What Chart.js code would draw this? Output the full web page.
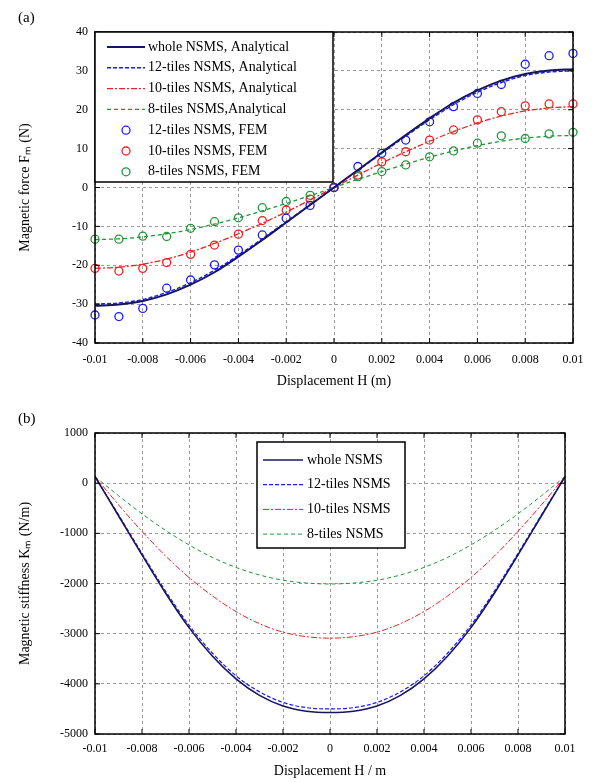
<!DOCTYPE html>
<html>
<head>
<meta charset="utf-8">
<title>NSMS force and stiffness</title>
<script src="https://cdn.jsdelivr.net/npm/chart.js@4.4.1/dist/chart.umd.min.js"></script>
<style>
  html, body { margin: 0; padding: 0; background: #fff; }
  body { width: 597px; height: 782px; position: relative; overflow: hidden; font-family: 'Liberation Serif', serif; }
  canvas { position: absolute; left: 0; }
  .tag { position: absolute; left: 18px; font-size: 15px; color: #000; }
</style>
</head>
<body>
<canvas id="forceChart" width="597" height="400" style="top:0"></canvas>
<canvas id="stiffChart" width="597" height="382" style="top:400px"></canvas>
<div class="tag" style="top:9px">(a)</div>
<div class="tag" style="top:410px">(b)</div>
<script>
// Displacement H (m) - shared by every series
const displacement = [-0.01, -0.009, -0.008, -0.007, -0.006, -0.005, -0.004, -0.003, -0.002, -0.001, 0,
    0.001, 0.002, 0.003, 0.004, 0.005, 0.006, 0.007, 0.008, 0.009, 0.01];

// (a) Magnetic force (N), analytical curves
const forceWhole = [-30.4, -30.1, -29.2, -27.5, -25.0, -21.8, -17.8, -13.5, -9.0, -4.5, 0,
    4.5, 9.0, 13.5, 17.8, 21.8, 25.0, 27.5, 29.2, 30.1, 30.4];
const force12 = [-30.0, -29.7, -28.8, -27.0, -24.5, -21.3, -17.4, -13.2, -8.8, -4.4, 0,
    4.4, 8.8, 13.2, 17.4, 21.3, 24.5, 27.0, 28.8, 29.7, 30.0];
const force10 = [-20.8, -20.5, -19.7, -18.4, -16.6, -14.4, -11.9, -9.2, -6.3, -3.2, 0,
    3.2, 6.3, 9.2, 11.9, 14.4, 16.6, 18.4, 19.7, 20.5, 20.8];
const force8 = [-13.4, -13.2, -12.7, -11.9, -10.8, -9.4, -7.8, -6.0, -4.1, -2.1, 0,
    2.1, 4.1, 6.0, 7.8, 9.4, 10.8, 11.9, 12.7, 13.2, 13.4];

// (a) Magnetic force (N), FEM results
const fem12 = [-32.8, -33.2, -31.1, -25.9, -23.8, -19.9, -16.1, -12.2, -7.9, -4.6, 0,
    5.4, 8.8, 12.2, 16.9, 20.8, 24.2, 26.5, 31.7, 33.9, 34.5];
const fem10 = [-20.8, -21.5, -20.8, -19.3, -17.2, -14.8, -12.0, -8.5, -5.8, -3.0, 0,
    3.2, 6.6, 9.2, 12.2, 14.8, 17.4, 19.5, 21.0, 21.5, 21.5];
const fem8 = [-13.3, -13.3, -12.5, -12.6, -10.5, -8.8, -7.8, -5.2, -3.6, -2.0, 0,
    2.8, 4.1, 5.8, 7.9, 9.4, 11.4, 13.3, 12.6, 13.8, 14.2];

// (b) Magnetic stiffness (N/m)
const stiffWhole = [130, -650, -1430, -2190, -2880, -3450, -3900, -4230, -4440, -4545, -4570,
    -4545, -4440, -4230, -3900, -3450, -2880, -2190, -1430, -650, 130];
const stiff12 = [130, -630, -1400, -2150, -2830, -3390, -3840, -4160, -4370, -4475, -4500,
    -4475, -4370, -4160, -3840, -3390, -2830, -2150, -1400, -630, 130];
const stiff10 = [130, -430, -960, -1450, -1880, -2250, -2560, -2800, -2970, -3060, -3090,
    -3060, -2970, -2800, -2560, -2250, -1880, -1450, -960, -430, 130];
const stiff8 = [130, -250, -610, -940, -1230, -1480, -1680, -1830, -1935, -1990, -2010,
    -1990, -1935, -1830, -1680, -1480, -1230, -940, -610, -250, 130];

const NAVY = '#16165e';
const BLUE = '#1a1aff';
const RED = '#f02020';
const GREEN = '#22963c';
const SERIF = "'Liberation Serif', 'Times New Roman', serif";

Chart.defaults.font.family = SERIF;
Chart.defaults.font.size = 12;
Chart.defaults.color = '#000';
Chart.defaults.animation = false;

function toPoints(ys) {
    return displacement.map((x, i) => ({ x: x, y: ys[i] }));
}

function fmtDisp(v) {
    return parseFloat(Number(v).toFixed(3)).toString();
}

// box around the plot with small inward ticks on all four sides
const frame = {
    id: 'frame',
    afterDatasetsDraw(chart) {
        const { ctx, chartArea: a, scales } = chart;
        ctx.save();
        ctx.setLineDash([]);
        ctx.strokeStyle = '#000';
        ctx.lineWidth = 1;
        ctx.beginPath();
        scales.x.ticks.forEach(t => {
            const px = scales.x.getPixelForValue(t.value);
            ctx.moveTo(px, a.bottom); ctx.lineTo(px, a.bottom - 5);
            ctx.moveTo(px, a.top); ctx.lineTo(px, a.top + 5);
        });
        scales.y.ticks.forEach(t => {
            const py = scales.y.getPixelForValue(t.value);
            ctx.moveTo(a.left, py); ctx.lineTo(a.left + 5, py);
            ctx.moveTo(a.right, py); ctx.lineTo(a.right - 5, py);
        });
        ctx.stroke();
        ctx.lineWidth = 1.5;
        ctx.strokeRect(a.left, a.top, a.right - a.left, a.bottom - a.top);
        ctx.restore();
    }
};

// legend drawn inside the plot area, in a framed white box
const boxLegend = {
    id: 'boxLegend',
    afterDraw(chart, args, opts) {
        const { ctx, chartArea: a } = chart;
        const x = a.left + opts.left;
        const y = a.top + opts.top;
        ctx.save();
        ctx.fillStyle = '#fff';
        ctx.fillRect(x, y, opts.width, opts.height);
        ctx.setLineDash([]);
        ctx.lineWidth = 1.5;
        ctx.strokeStyle = '#000';
        ctx.strokeRect(x, y, opts.width, opts.height);
        ctx.font = '14px ' + SERIF;
        ctx.textBaseline = 'middle';
        chart.data.datasets.forEach((ds, i) => {
            const cy = y + opts.firstRow + i * opts.rowH;
            ctx.strokeStyle = ds.borderColor;
            if (ds.showLine === false) {
                ctx.setLineDash([]);
                ctx.lineWidth = ds.pointBorderWidth || 1.3;
                ctx.beginPath();
                ctx.arc(x + (opts.lineX0 + opts.lineX1) / 2, cy, ds.pointRadius, 0, Math.PI * 2);
                ctx.stroke();
            } else {
                ctx.setLineDash(ds.borderDash || []);
                ctx.lineWidth = ds.borderWidth;
                ctx.beginPath();
                ctx.moveTo(x + opts.lineX0, cy);
                ctx.lineTo(x + opts.lineX1, cy);
                ctx.stroke();
            }
            ctx.fillStyle = '#000';
            ctx.fillText(ds.label, x + opts.textX, cy);
        });
        ctx.restore();
    }
};

function xAxis(titleText, labelPad, titlePadBottom, height) {
    return {
        type: 'linear',
        min: -0.01,
        max: 0.01,
        ticks: { stepSize: 0.002, padding: labelPad, maxRotation: 0, autoSkip: false, callback: v => fmtDisp(v) },
        grid: { color: '#9a9a9a', lineWidth: 1, drawTicks: false },
        border: { display: false, dash: [3, 3] },
        title: { display: true, text: titleText, font: { size: 14 }, padding: { top: 0, bottom: titlePadBottom } },
        afterFit(scale) { scale.height = height; }
    };
}

function yAxis(titleText, min, max, step) {
    return {
        min: min,
        max: max,
        ticks: { stepSize: step, padding: 7, callback: v => String(v) },
        grid: { color: '#9a9a9a', lineWidth: 1, drawTicks: false },
        border: { display: false, dash: [3, 3] },
        title: { display: true, text: titleText, font: { size: 14 }, padding: { top: 17, bottom: 0 } },
        afterFit(scale) { scale.width = 95; }
    };
}

function curve(label, ys, color, width, dash) {
    return {
        label: label,
        data: toPoints(ys),
        borderColor: color,
        borderWidth: width,
        borderDash: dash,
        pointRadius: 0,
        cubicInterpolationMode: 'monotone',
        fill: false
    };
}

function markers(label, ys, color) {
    return {
        label: label,
        data: toPoints(ys),
        showLine: false,
        borderColor: color,
        backgroundColor: 'rgba(0,0,0,0)',
        pointStyle: 'circle',
        pointRadius: 4,
        pointBorderWidth: 1.3,
        clip: false
    };
}

// (a) force chart
new Chart(document.getElementById('forceChart').getContext('2d'), {
    type: 'line',
    data: {
        datasets: [
            curve('whole NSMS, Analytical', forceWhole, NAVY, 2, []),
            curve('12-tiles NSMS, Analytical', force12, BLUE, 1.4, [4, 2]),
            curve('10-tiles NSMS, Analytical', force10, RED, 1.3, [6, 2, 2, 2]),
            curve('8-tiles NSMS,Analytical', force8, GREEN, 1.3, [4, 3]),
            markers('12-tiles NSMS, FEM', fem12, BLUE),
            markers('10-tiles NSMS, FEM', fem10, RED),
            markers('8-tiles NSMS, FEM', fem8, GREEN)
        ]
    },
    options: {
        responsive: false,
        layout: { padding: { top: 32, right: 24, left: 0, bottom: 0 } },
        scales: {
            x: xAxis('Displacement H (m)', 10, 10, 57),
            y: yAxis('Magnetic force F\u2098 (N)', -40, 40, 10)
        },
        plugins: {
            legend: { display: false },
            tooltip: { enabled: false },
            boxLegend: { left: 0, top: 0, width: 238, height: 150, firstRow: 15, rowH: 20.8, lineX0: 12, lineX1: 50, textX: 53 }
        }
    },
    plugins: [frame, boxLegend]
});

// (b) stiffness chart
new Chart(document.getElementById('stiffChart').getContext('2d'), {
    type: 'line',
    data: {
        datasets: [
            curve('whole NSMS', stiffWhole, NAVY, 1.6, []),
            curve('12-tiles NSMS', stiff12, BLUE, 1.2, [4, 2]),
            curve('10-tiles NSMS', stiff10, RED, 1, [6, 2, 2, 2]),
            curve('8-tiles NSMS', stiff8, GREEN, 1, [4, 3])
        ]
    },
    options: {
        responsive: false,
        layout: { padding: { top: 33, right: 32, left: 0, bottom: 0 } },
        scales: {
            x: xAxis('Displacement H / m', 8, 2, 48),
            y: yAxis('Magnetic stiffness K\u2098 (N/m)', -5000, 1000, 1000)
        },
        plugins: {
            legend: { display: false },
            tooltip: { enabled: false },
            boxLegend: { left: 162, top: 9, width: 148, height: 106, firstRow: 18, rowH: 24.7, lineX0: 6, lineX1: 46, textX: 50 }
        }
    },
    plugins: [frame, boxLegend]
});
</script>
</body>
</html>
